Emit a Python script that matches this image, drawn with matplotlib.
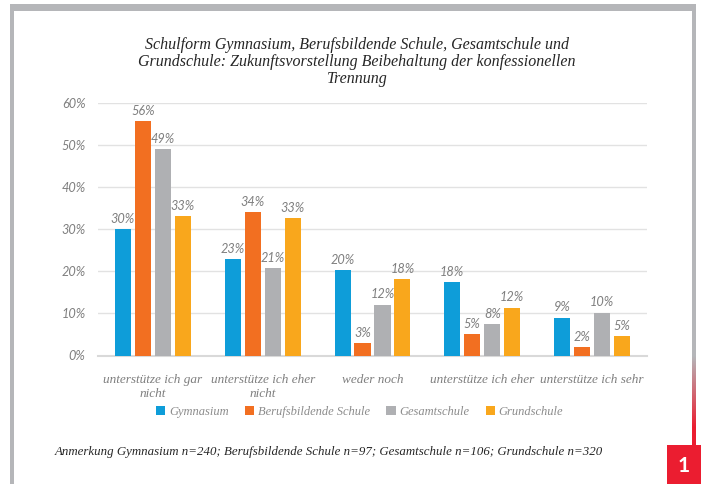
import numpy as np
import matplotlib.pyplot as plt
from matplotlib.patches import Rectangle

# Werte (Balkenhöhen in %) und angezeigte Beschriftungen
categories = ["unterstütze ich gar\nnicht", "unterstütze ich eher\nnicht", "weder noch",
              "unterstütze ich eher", "unterstütze ich sehr"]
series_names = ["Gymnasium", "Berufsbildende Schule", "Gesamtschule", "Grundschule"]
gymnasium = [30.0, 22.9, 20.3, 17.4, 9.0]
berufsbildende = [55.8, 34.0, 3.0, 5.0, 2.0]
gesamtschule = [49.1, 20.8, 12.1, 7.4, 10.2]
grundschule = [33.2, 32.6, 18.1, 11.4, 4.6]
labels_gym = [30, 23, 20, 18, 9]
labels_bbs = [56, 34, 3, 5, 2]
labels_ges = [49, 21, 12, 8, 10]
labels_gru = [33, 33, 18, 12, 5]
y_ticks = [0, 10, 20, 30, 40, 50, 60]

title = ("Schulform Gymnasium, Berufsbildende Schule, Gesamtschule und\n"
         "Grundschule: Zukunftsvorstellung Beibehaltung der konfessionellen\n"
         "Trennung")
note = "Anmerkung Gymnasium n=240; Berufsbildende Schule n=97; Gesamtschule n=106; Grundschule n=320"

colors = ["#0E9DD9", "#F26F21", "#AFB0B3", "#F9A71C"]
label_gray = "#7F7F7F"
serif = ["Liberation Serif", "DejaVu Serif"]
sans = ["Lato", "DejaVu Sans"]

W, H = 701, 484
fig = plt.figure(figsize=(W / 100, H / 100), dpi=100)

# Hintergrund / Rahmen in Pixelkoordinaten
bg = fig.add_axes([0, 0, 1, 1], zorder=-1)
bg.set_xlim(0, W)
bg.set_ylim(H, 0)
bg.axis("off")
frame_gray = "#B5B6B9"
red = "#EB1D30"
bg.add_patch(Rectangle((10, 4), 686, 7, color=frame_gray, lw=0))
bg.add_patch(Rectangle((10, 4), 4, H - 4, color=frame_gray, lw=0))
bg.add_patch(Rectangle((692, 4), 4, 352, color=frame_gray, lw=0))
grad = np.linspace(0, 1, 100).reshape(-1, 1)
c0 = np.array([0xB5, 0xB6, 0xB9]) / 255
c1 = np.array([0xEB, 0x1D, 0x30]) / 255
img = c0 + grad[..., None] * (c1 - c0)
bg.imshow(img, extent=(692, 696, 428, 356), aspect="auto", interpolation="bilinear")
bg.add_patch(Rectangle((692, 428), 4, 20, color=red, lw=0))
bg.add_patch(Rectangle((667, 445), 34, 39, color=red, lw=0))
bg.text(684, 466, "1", color="white", fontsize=15, fontweight="bold",
        family=sans, ha="center", va="center")
bg.text(357, 62, title, ha="center", va="center", fontsize=11.5, style="italic",
        family=serif, color="#262626", linespacing=1.1)
bg.text(55, 452, note, ha="left", va="center", fontsize=9.3, style="italic",
        family=serif, color="#262626")

ax = fig.add_axes([98 / W, 1 - 355.5 / H, (647 - 98) / W, (355.5 - 103) / H])
x = np.arange(len(categories))
width = 0.146
step = 0.182
offsets = [-1.5 * step, -0.5 * step, 0.5 * step, 1.5 * step]
all_values = [gymnasium, berufsbildende, gesamtschule, grundschule]
all_labels = [labels_gym, labels_bbs, labels_ges, labels_gru]
handles = []
for vals, labs, off, col, name in zip(all_values, all_labels, offsets, colors, series_names):
    bars = ax.bar(x + off, vals, width, color=col, label=name, zorder=3)
    handles.append(bars)
    for b, lab in zip(bars, labs):
        ax.annotate(f"{lab}%", (b.get_x() + b.get_width() / 2, b.get_height()),
                    xytext=(0, 3), textcoords="offset points", ha="center", va="bottom",
                    fontsize=9.2, style="italic", family=sans, color=label_gray)

ax.set_xlim(-0.5, len(categories) - 0.5)
ax.set_ylim(0, 60)
ax.set_yticks(y_ticks)
ax.set_yticklabels([f"{t}%" for t in y_ticks], fontsize=9.2, style="italic",
                   family=sans, color=label_gray)
ax.set_xticks(x)
ax.set_xticklabels(categories, fontsize=9.5, style="italic", family=serif,
                   color=label_gray, linespacing=1.25)
ax.tick_params(axis="both", length=0)
ax.tick_params(axis="y", pad=9)
ax.tick_params(axis="x", pad=13)
ax.grid(axis="y", color="#E2E2E2", lw=1, zorder=0)
for s in ["top", "right", "left"]:
    ax.spines[s].set_visible(False)
ax.spines["bottom"].set_color("#D9D9D9")
ax.spines["bottom"].set_linewidth(1.5)
ax.set_facecolor("none")

fig.legend(handles=handles, loc="center", bbox_to_anchor=(359.5 / W, 1 - 412 / H),
           ncol=4, frameon=False, handlelength=0.75, handleheight=0.75,
           handletextpad=0.3, columnspacing=1.3,
           prop={"family": serif, "style": "italic", "size": 9}, labelcolor="#8C8C8C")

fig.savefig("out.png", dpi=100)
